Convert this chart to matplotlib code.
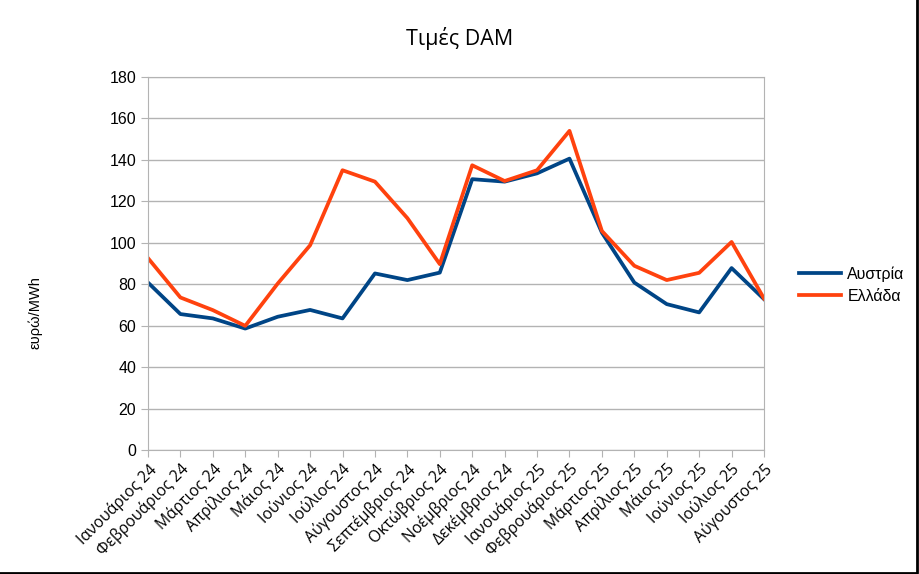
import matplotlib.pyplot as plt
from matplotlib.lines import Line2D

months = ['Ιανουάριος 24', 'Φεβρουάριος 24', 'Μάρτιος 24', 'Απρίλιος 24',
          'Μάιος 24', 'Ιούνιος 24', 'Ιούλιος 24', 'Αύγουστος 24',
          'Σεπτέμβριος 24', 'Οκτώβριος 24', 'Νοέμβριος 24', 'Δεκέμβριος 24',
          'Ιανουάριος 25', 'Φεβρουάριος 25', 'Μάρτιος 25', 'Απρίλιος 25',
          'Μάιος 25', 'Ιούνιος 25', 'Ιούλιος 25', 'Αύγουστος 25']
austria = [80.8, 65.6, 63.5, 58.6, 64.3, 67.6, 63.5, 85.2, 82.0, 85.6,
           130.7, 129.5, 133.5, 140.6, 104.9, 80.8, 70.4, 66.4, 87.8, 72.8]
greece = [92.6, 73.6, 67.5, 59.9, 80.3, 98.8, 135.0, 129.5, 111.9, 89.7,
          137.4, 129.8, 135.0, 154.0, 105.7, 88.9, 82.0, 85.5, 100.4, 73.1]

plt.rcParams['font.family'] = ['Liberation Sans', 'DejaVu Sans']

fig = plt.figure(figsize=(9.19, 5.74), dpi=100)
ax = fig.add_axes([148 / 919, 1 - 450 / 574, (764 - 148) / 919, (450 - 77) / 574])

x = list(range(len(months)))
ax.plot(x, austria, color='#004586', lw=2.7, label='Αυστρία', solid_joinstyle='round')
ax.plot(x, greece, color='#ff420e', lw=2.7, label='Ελλάδα', solid_joinstyle='round')

ax.set_xlim(0, len(months) - 1)
ax.set_ylim(0, 180)
ax.set_yticks(range(0, 181, 20))
ax.set_xticks(x)
ax.set_xticklabels(months, rotation=45, ha='right', rotation_mode='anchor',
                   fontsize=11.3, family=['Open Sans', 'DejaVu Sans'])
ax.tick_params(axis='y', labelsize=11.5, color='#b3b3b3', length=5)
ax.tick_params(axis='x', color='#b3b3b3', length=5, pad=3)
ax.grid(axis='y', color='#b3b3b3', lw=1)
ax.set_axisbelow(True)
for s in ax.spines.values():
    s.set_color('#b3b3b3')

fig.suptitle('Τιμές DAM', x=460 / 919, y=1 - 38 / 574, va='center', fontsize=15.5,
             family=['Open Sans', 'DejaVu Sans'])
fig.text(35 / 919, 1 - 313 / 574, 'ευρώ/MWh', rotation=90, ha='center', va='center',
         fontsize=10.5)
ax.legend(loc='center left', bbox_to_anchor=(785 / 919, 1 - 285 / 574),
          bbox_transform=fig.transFigure, frameon=False, fontsize=11.5,
          handlelength=2.6, handletextpad=0.4, labelspacing=0.45)

# dark edge on right and bottom of the image
fig.lines.append(Line2D([0, 0.998, 0.998], [0.002, 0.002, 1], transform=fig.transFigure,
                        color='black', lw=2))

fig.savefig('out.png', dpi=100)
